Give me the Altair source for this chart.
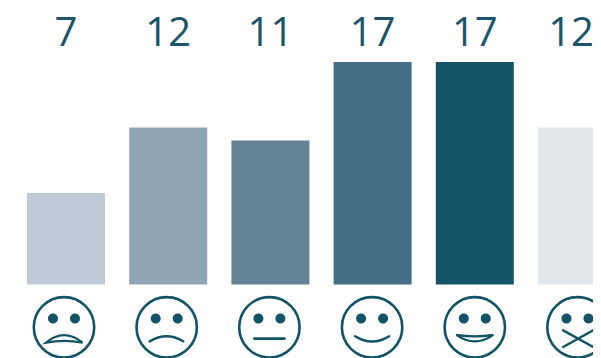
import altair as alt
import pandas as pd

moods = ["awful", "sad", "neutral", "happy", "very happy", "no comment"]
counts = [7, 12, 11, 17, 17, 12]
bar_colors = ["#bfccd7", "#8fa5b6", "#638394", "#466f85", "#135367", "#e3e8ec"]

INK = "#135367"
EYES = "M-16,-8.8 a5,5 0 1,0 10,0 a5,5 0 1,0 -10,0 Z M16,-8.8 a5,5 0 1,0 -10,0 a5,5 0 1,0 10,0 Z"
mouths = [
    "M-18,15.3 Q0,0.5 18.5,15.3 Q0,12 -18,15.3 Z",
    "M-17,14 Q0,4 16.5,14",
    "M-15,11.3 L15,11.3",
    "M-17,9 Q0,19.6 17,9",
    "M-18.5,7.5 Q0,10.5 18.5,7.5 Q0,20.5 -18.5,7.5 Z",
    "M-14.3,3 L15.7,19.7 M15.7,3 L-14.3,19.7",
]
mouth_widths = [2.2, 2.5, 2.8, 2.5, 2.2, 2.5]

df = pd.DataFrame({"mood": moods, "count": counts, "mouth_width": mouth_widths})

band = alt.Scale(type="band", domain=moods, range=[19, 608], paddingInner=0.2368, paddingOuter=0)
row = alt.Scale(type="point", domain=moods, range=[56, 569.5], padding=0)
y_scale = alt.Scale(domain=[0, 17], range=[276.5, 54], nice=False, zero=True)
base = alt.Chart(df)

bars = base.mark_bar(clip=True).encode(
    x=alt.X("mood:N", scale=band, axis=None),
    y=alt.Y("count:Q", scale=y_scale, axis=None),
    color=alt.Color("mood:N", scale=alt.Scale(domain=moods, range=bar_colors), legend=None),
)

label_style = dict(font="Open Sans", fontSize=40, color="#1a5569", baseline="alphabetic", align="center")
label_enc = dict(
    x=alt.X("mood:N", scale=band, axis=None),
    y=alt.value(38),
    text=alt.Text("count:Q"),
)
labels = base.transform_filter("datum.mood != 'no comment'").mark_text(**label_style).encode(**label_enc)
last_label = base.transform_filter("datum.mood == 'no comment'").mark_text(dx=-6, **label_style).encode(**label_enc)

face_y = alt.value(319.3)
heads = base.mark_point(shape="circle", size=3648, filled=False, stroke=INK, strokeWidth=2.6, opacity=1, clip=True).encode(
    x=alt.X("mood:N", scale=row, axis=None),
    y=face_y,
)
eyes = base.mark_point(shape=EYES, size=4, filled=True, fill=INK, strokeWidth=0, opacity=1, clip=True).encode(
    x=alt.X("mood:N", scale=row, axis=None),
    y=face_y,
)
mouth = base.mark_point(size=4, filled=False, stroke=INK, opacity=1, clip=True, strokeCap="round").encode(
    x=alt.X("mood:N", scale=row, axis=None),
    y=face_y,
    shape=alt.Shape("mood:N", scale=alt.Scale(domain=moods, range=mouths), legend=None),
    strokeWidth=alt.StrokeWidth("mouth_width:Q", scale=None),
)

chart = (
    alt.layer(bars, labels, last_label, heads, eyes, mouth)
    .resolve_scale(x="independent", color="independent", shape="independent")
    .properties(width=585, height=350, padding=0, autosize="none")
    .configure_view(stroke=None)
)
chart.save("out.html", embed_options={"renderer": "svg", "actions": False})
